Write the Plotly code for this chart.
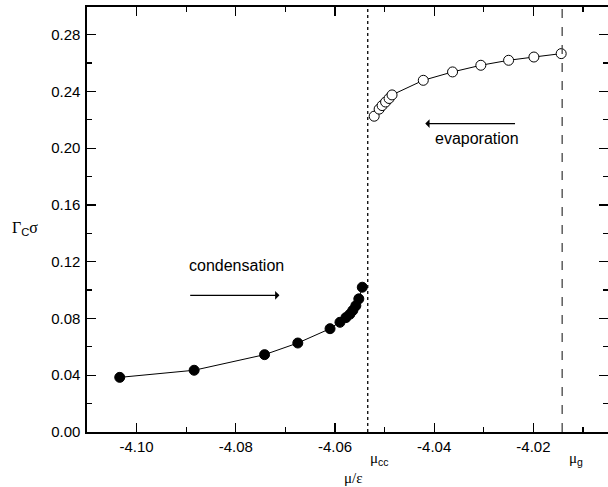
import plotly.graph_objects as go

# condensation branch (filled circles)
cond_mu = [-4.1034, -4.0884, -4.0742, -4.0675, -4.0610, -4.0590, -4.0578,
           -4.0570, -4.0564, -4.0558, -4.0552, -4.0545]
cond_gamma = [0.0385, 0.0435, 0.0545, 0.0627, 0.0728, 0.0773, 0.0806,
              0.0830, 0.0857, 0.0890, 0.0938, 0.1020]

# evaporation branch (open circles)
evap_mu = [-4.0521, -4.0511, -4.0505, -4.0498, -4.0491, -4.0485, -4.0422,
           -4.0363, -4.0306, -4.0250, -4.0199, -4.0144]
evap_gamma = [0.2225, 0.2275, 0.2300, 0.2325, 0.2350, 0.2375, 0.2478,
              0.2537, 0.2584, 0.2619, 0.2642, 0.2666]

mu_cc = -4.0534
mu_g = -4.0142

x_ticks = [-4.10, -4.08, -4.06, -4.04, -4.02]
x_ticktext = ["-4.10", "-4.08", "-4.06", "-4.04", "-4.02"]
y_ticks = [0.00, 0.04, 0.08, 0.12, 0.16, 0.20, 0.24, 0.28]
y_ticktext = ["0.00", "0.04", "0.08", "0.12", "0.16", "0.20", "0.24", "0.28"]

SERIF = "font-family:'Liberation Serif'"

fig = go.Figure()
fig.add_trace(go.Scatter(
    x=cond_mu, y=cond_gamma, mode="lines+markers",
    line=dict(color="black", width=1),
    marker=dict(size=10, color="black", line=dict(color="black", width=1)),
    showlegend=False, hoverinfo="skip"))
fig.add_trace(go.Scatter(
    x=evap_mu, y=evap_gamma, mode="lines+markers",
    line=dict(color="black", width=1),
    marker=dict(size=10, color="white", line=dict(color="black", width=1)),
    showlegend=False, hoverinfo="skip"))

fig.add_shape(type="line", xref="x", yref="paper", x0=mu_cc, x1=mu_cc, y0=0, y1=1,
              line=dict(color="black", width=1.3, dash="dot"))
fig.add_shape(type="line", xref="x", yref="paper", x0=mu_g, x1=mu_g, y0=0, y1=1,
              line=dict(color="#444444", width=1.3, dash="dash"))

annotations = [
    dict(x=-4.0712, y=0.0963, ax=-4.0899, ay=0.0963, xref="x", yref="y",
         axref="x", ayref="y", showarrow=True, arrowhead=1, arrowsize=1.2,
         arrowwidth=1.2, arrowcolor="black", text=" "),
    dict(x=-4.0418, y=0.2173, ax=-4.0230, ay=0.2173, xref="x", yref="y",
         axref="x", ayref="y", showarrow=True, arrowhead=1, arrowsize=1.2,
         arrowwidth=1.2, arrowcolor="black", text=" "),
    dict(x=-4.0799, y=0.1174, xref="x", yref="y", text="condensation",
         showarrow=False, font=dict(size=16, color="black")),
    dict(x=-4.0313, y=0.2071, xref="x", yref="y", text="evaporation",
         showarrow=False, font=dict(size=16, color="black")),
    dict(x=mu_cc, y=-0.064, xref="x", yref="paper", xanchor="left", yanchor="middle",
         text=f"<span style=\"{SERIF}\">μ</span><sub>cc</sub>",
         showarrow=False, font=dict(size=15, color="black")),
    dict(x=mu_g + 0.0009, y=-0.064, xref="x", yref="paper", xanchor="left", yanchor="middle",
         text=f"<span style=\"{SERIF}\">μ</span><sub>g</sub>",
         showarrow=False, font=dict(size=15, color="black")),
    dict(x=-4.0562, y=-0.108, xref="x", yref="paper", xanchor="center", yanchor="middle",
         text=f"<span style=\"{SERIF}\">μ/ε</span>",
         showarrow=False, font=dict(size=15, color="black")),
    dict(x=-0.119, y=(432 - 228) / 425, xref="paper", yref="paper",
         xanchor="center", yanchor="middle",
         text=f"<span style=\"{SERIF}\">Γ</span><sub>C</sub><span style=\"{SERIF}\">σ</span>",
         showarrow=False, font=dict(size=16, color="black")),
]

fig.update_layout(
    width=610, height=487,
    margin=dict(l=87, r=0, t=7, b=55),
    paper_bgcolor="white", plot_bgcolor="white",
    font=dict(family="Liberation Sans, Arial, sans-serif", size=15, color="black"),
    annotations=annotations,
    hovermode=False,
    xaxis=dict(range=[-4.1100, -4.00496], tickmode="array", tickvals=x_ticks,
               ticktext=x_ticktext, ticks="inside", ticklen=9, tickwidth=1.3,
               tickcolor="black", showline=True, linecolor="black", linewidth=1.6,
               mirror="ticks", showgrid=False, zeroline=False,
               minor=dict(ticks="inside", ticklen=5, tickwidth=1.3, tickcolor="black",
                          dtick=0.01, tick0=-4.10, showgrid=False),
               tickfont=dict(size=15)),
    yaxis=dict(range=[0, 0.29945], tickmode="array", tickvals=y_ticks,
               ticktext=y_ticktext, ticks="inside", ticklen=9, tickwidth=1.3,
               tickcolor="black", showline=True, linecolor="black", linewidth=1.6,
               mirror="ticks", showgrid=False, zeroline=False, ticklabelstandoff=2,
               minor=dict(ticks="inside", ticklen=5, tickwidth=1.3, tickcolor="black",
                          dtick=0.02, tick0=0, showgrid=False),
               tickfont=dict(size=15)),
)

fig.write_html("out.html", config={"displayModeBar": False, "staticPlot": True},
               post_script="document.body.style.margin='0';document.body.style.overflow='hidden';")
